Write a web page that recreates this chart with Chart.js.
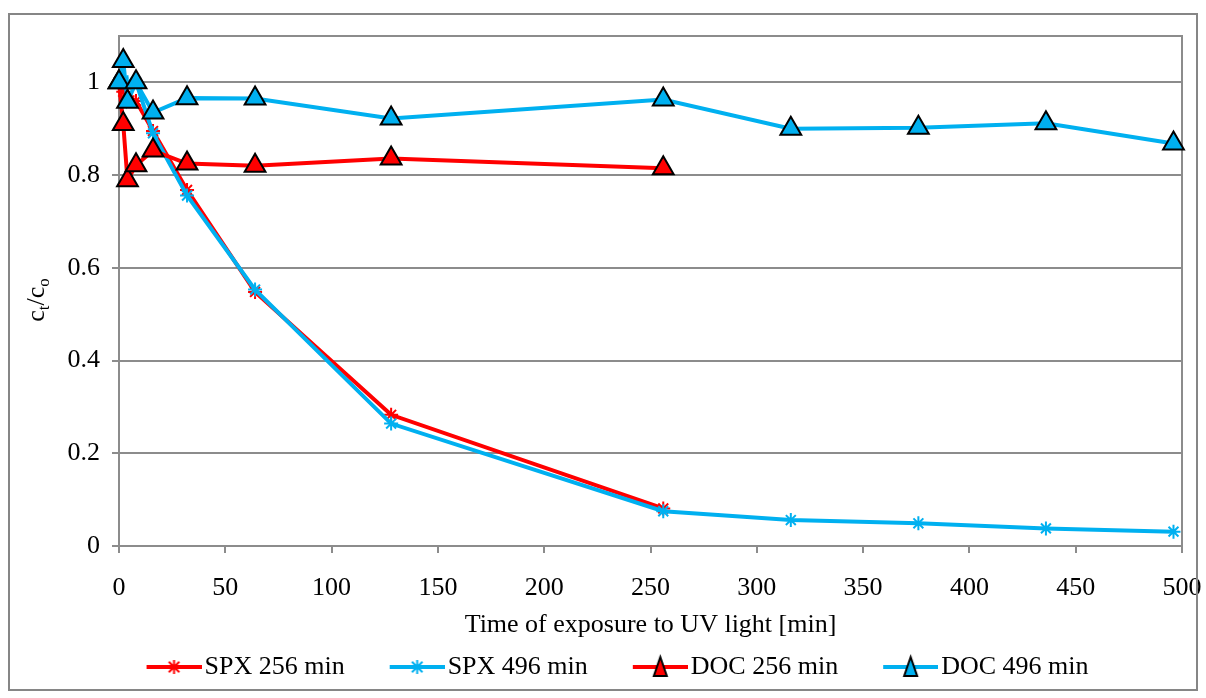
<!DOCTYPE html>
<html><head><meta charset="utf-8">
<script src="https://cdn.jsdelivr.net/npm/chart.js@4.4.1/dist/chart.umd.min.js"></script>
<style>html,body{margin:0;padding:0;background:#fff;}</style>
</head><body>
<canvas id="c" width="1206" height="698"></canvas>
<script>
// ---- data ----
const timeShort = [0, 2, 4, 8, 16, 32, 64, 128, 256];
const timeLong = [0, 2, 4, 8, 16, 32, 64, 128, 256, 316, 376, 436, 496];
const spx256 = [1.0, 0.98, 0.97, 0.96, 0.895, 0.768, 0.548, 0.283, 0.081];
const spx496 = [1.0, 1.0, 1.0, 1.0, 0.89, 0.756, 0.553, 0.264, 0.075, 0.056, 0.049, 0.038, 0.031];
const doc256 = [1.0, 0.91, 0.789, 0.821, 0.853, 0.825, 0.82, 0.836, 0.815];
const doc496 = [1.0, 1.046, 0.958, 1.0, 0.935, 0.966, 0.965, 0.922, 0.963, 0.900, 0.902, 0.912, 0.868];
const seriesNames = ['SPX 256 min', 'SPX 496 min', 'DOC 256 min', 'DOC 496 min'];
const xTitle = 'Time of exposure to UV light [min]';

const RED = '#FF0000', BLUE = '#00B0F0', GRID = '#8c8c8c';
const FONT = "'Liberation Serif', 'Times New Roman', serif";
const FS = 26;

function pts(xs, ys) { return xs.map((x, i) => ({x: x, y: ys[i]})); }

function legendIcon(color, kind) {
  const c = document.createElement('canvas');
  c.width = 100; c.height = 28;
  const g = c.getContext('2d');
  g.strokeStyle = color; g.lineWidth = 4;
  g.beginPath(); g.moveTo(45, 14); g.lineTo(100, 14); g.stroke();
  const cx = 72.5, cy = 14;
  if (kind === 'star') {
    const r = 7; g.lineWidth = 2; g.strokeStyle = color;
    g.beginPath();
    g.moveTo(cx, cy - r); g.lineTo(cx, cy + r);
    const d = r * 0.75;
    g.moveTo(cx - d, cy - d); g.lineTo(cx + d, cy + d);
    g.moveTo(cx - d, cy + d); g.lineTo(cx + d, cy - d);
    g.stroke();
  } else {
    const w = 6.5, h = 10;
    g.fillStyle = color; g.strokeStyle = '#000'; g.lineWidth = 2;
    g.beginPath();
    g.moveTo(cx, cy - h); g.lineTo(cx + w, cy + h - 1); g.lineTo(cx - w, cy + h - 1); g.closePath();
    g.fill(); g.stroke();
  }
  return c;
}

const datasets = [
  {label: seriesNames[0], data: pts(timeShort, spx256), borderColor: RED, backgroundColor: RED,
   pointStyle: 'star', pointRadius: 7, pointBorderWidth: 2, pointBorderColor: RED, order: 3, icon: legendIcon(RED, 'star')},
  {label: seriesNames[1], data: pts(timeLong, spx496), borderColor: BLUE, backgroundColor: BLUE,
   pointStyle: 'star', pointRadius: 7, pointBorderWidth: 2, pointBorderColor: BLUE, order: 2, icon: legendIcon(BLUE, 'star')},
  {label: seriesNames[2], data: pts(timeShort, doc256), borderColor: RED, backgroundColor: RED,
   pointStyle: 'triangle', pointRadius: 12, pointBorderWidth: 2, pointBorderColor: '#000', pointBackgroundColor: RED, order: 1, icon: legendIcon(RED, 'tri')},
  {label: seriesNames[3], data: pts(timeLong, doc496), borderColor: BLUE, backgroundColor: BLUE,
   pointStyle: 'triangle', pointRadius: 12, pointBorderWidth: 2, pointBorderColor: '#000', pointBackgroundColor: BLUE, order: 0, icon: legendIcon(BLUE, 'tri')}
].map(d => Object.assign({showLine: true, borderWidth: 4, clip: false, tension: 0}, d));

const LEGEND_DX = 9;

const decor = {
  id: 'decor',
  afterLayout(chart) {
    const lg = chart.legend;
    if (lg) { lg.left += LEGEND_DX; lg.right += LEGEND_DX; }
  },
  beforeDatasetsDraw(chart) {
    const a = chart.chartArea, ctx = chart.ctx;
    ctx.save();
    ctx.strokeStyle = GRID; ctx.lineWidth = 2;
    ctx.beginPath();
    ctx.moveTo(a.left, a.top); ctx.lineTo(a.right, a.top); ctx.lineTo(a.right, a.bottom);
    ctx.stroke();
    ctx.restore();
  },
  afterDraw(chart) {
    const ctx = chart.ctx;
    ctx.save();
    // outer chart border
    ctx.strokeStyle = '#868686'; ctx.lineWidth = 2;
    ctx.strokeRect(9, 14, 1188, 676);
    // y-axis title c_t/c_o
    ctx.translate(44, 300);
    ctx.rotate(-Math.PI / 2);
    ctx.fillStyle = '#000';
    ctx.textBaseline = 'alphabetic';
    const big = FS + 'px ' + FONT, small = Math.round(FS * 0.65) + 'px ' + FONT;
    const parts = [['c', big, 0], ['t', small, 5], ['/', big, 0], ['c', big, 0], ['o', small, 5]];
    let total = 0;
    parts.forEach(p => { ctx.font = p[1]; total += ctx.measureText(p[0]).width; });
    let x = -total / 2;
    parts.forEach(p => { ctx.font = p[1]; ctx.fillText(p[0], x, p[2]); x += ctx.measureText(p[0]).width; });
    ctx.restore();
  }
};

new Chart(document.getElementById('c'), {
  type: 'scatter',
  data: {datasets: datasets},
  plugins: [decor],
  options: {
    responsive: false,
    animation: false,
    devicePixelRatio: 1,
    layout: {padding: {left: 0, right: 24, top: 36, bottom: 8}},
    font: {family: FONT, size: FS},
    plugins: {
      tooltip: {enabled: false},
      legend: {
        position: 'bottom',
        labels: {
          usePointStyle: true,
          pointStyleWidth: 80,
          padding: 10,
          color: '#000',
          font: {family: FONT, size: FS},
          sort: (a, b) => a.datasetIndex - b.datasetIndex,
          generateLabels(chart) {
            return chart.data.datasets.map((d, i) => ({
              text: d.label, pointStyle: d.icon, datasetIndex: i,
              fillStyle: d.borderColor, strokeStyle: d.borderColor, lineWidth: 0, hidden: false
            }));
          }
        }
      }
    },
    scales: {
      x: {
        type: 'linear', min: 0, max: 500,
        ticks: {stepSize: 50, color: '#000', font: {family: FONT, size: FS}, padding: 20, maxRotation: 0},
        grid: {drawOnChartArea: false, drawTicks: true, tickLength: 7, color: GRID, lineWidth: 2},
        border: {color: GRID, width: 2},
        title: {display: true, text: xTitle, color: '#000', font: {family: FONT, size: FS}, padding: {top: 0, bottom: 3}},
        afterFit(scale) { scale.height = 98; scale.paddingLeft = 0; scale.paddingRight = 0; }
      },
      y: {
        min: 0, max: 1.1,
        ticks: {stepSize: 0.2, color: '#000', font: {family: FONT, size: FS}, padding: 12,
          callback: v => String(Math.round(v * 10) / 10)},
        afterBuildTicks(scale) { scale.ticks = scale.ticks.filter(t => t.value < 1.05); },
        grid: {drawTicks: true, tickLength: 7, color: GRID, lineWidth: 2},
        border: {color: GRID, width: 2},
        afterFit(scale) { scale.width = 119; scale.paddingTop = 0; scale.paddingBottom = 0; }
      }
    }
  }
});
</script>
</body></html>
